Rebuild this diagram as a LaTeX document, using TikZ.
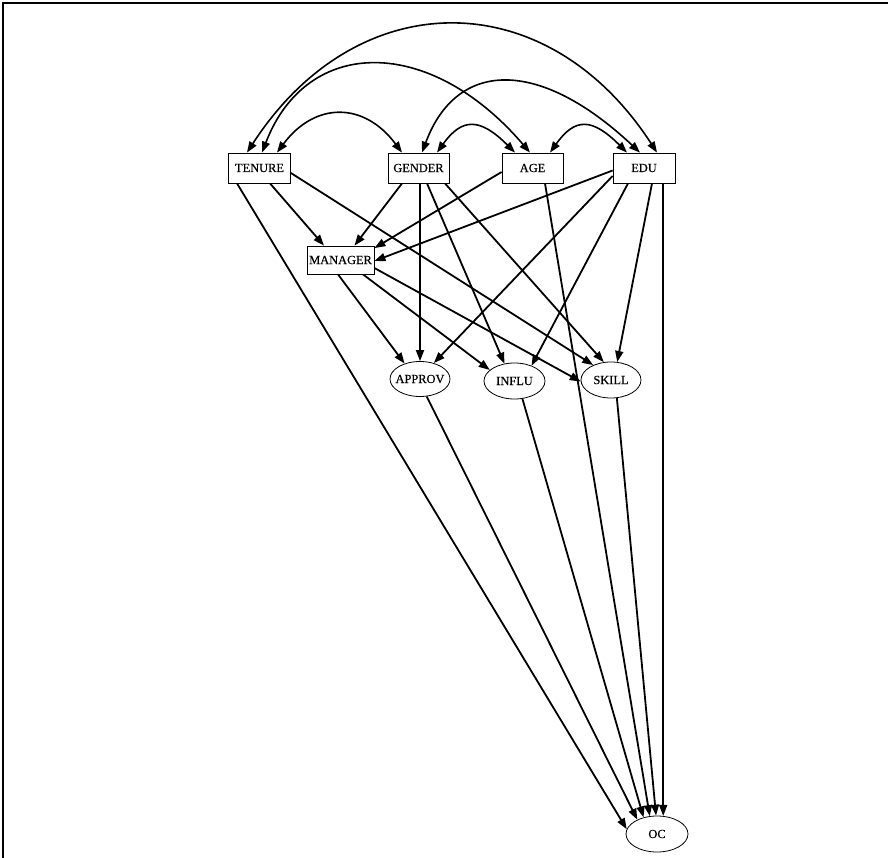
\documentclass[tikz,border=0pt]{standalone}
\usepackage{fontspec}
\setmainfont{Liberation Serif}
\newfontfamily\lblfont{Liberation Serif}[FakeBold=0.5]
\usetikzlibrary{arrows.meta,calc,shapes.geometric}
\pgfdeclarelayer{bg}
\pgfsetlayers{bg,main}
\begin{document}
\begin{tikzpicture}[x=1pt,y=-1pt,
  lbl/.style={font=\lblfont\fontsize{12.4}{14}\selectfont},
  box/.style={lbl, draw, line width=0.8pt, fill=white, rectangle, inner sep=0pt, minimum height=30pt},
  oval/.style={lbl, draw, line width=0.8pt, fill=white, ellipse, inner xsep=-6pt, inner ysep=0pt, minimum width=60pt, minimum height=35pt},
  tipshape/.tip={Triangle[length=11pt,width=8pt]},
  edge/.style={line width=1.8pt, -tipshape},
  biedge/.style={line width=1.6pt, tipshape-tipshape},
  frameline/.style={line width=2pt}
]
\useasboundingbox (0,0) rectangle (888,858);
\draw[frameline] (3,858) -- (3,3) -- (888,3);

\node[box, minimum width=62pt] (TENURE) at (259.5,168) {TENURE};
\node[box, minimum width=61pt] (GENDER) at (418.5,168) {GENDER};
\node[box, minimum width=61pt] (AGE) at (532.5,168) {AGE};
\node[box, minimum width=62pt] (EDU) at (644,168) {EDU};
\node[box, minimum width=67pt, minimum height=28pt] (MANAGER) at (340.5,260) {MANAGER};
\node[oval] (APPROV) at (420,379) {APPROV};
\node[oval, minimum width=61pt, minimum height=36pt] (INFLU) at (514.5,381) {INFLU};
\node[oval, minimum height=36pt] (SKILL) at (611,380) {SKILL};
\node[oval, minimum width=62pt, minimum height=36pt] (OC) at (657,834) {OC};

\begin{pgfonlayer}{bg}
% covariance arcs
\draw[biedge] ($(TENURE.north)+(-12.5,0)$) .. controls +(110,-170) and +(-110,-170) .. ($(EDU.north)+(13,0)$);
\draw[biedge] ($(TENURE.north)+(2.5,0)$) .. controls +(45,-117) and +(-100,-117) .. ($(AGE.north)+(-2.5,0)$);
\draw[biedge] ($(GENDER.north)+(3.5,0)$) .. controls +(35,-94) and +(-100,-94) .. ($(EDU.north)+(-4,0)$);
\draw[biedge] ($(TENURE.north)+(17.5,0)$) .. controls +(38,-51) and +(-38,-51) .. ($(GENDER.north)+(-16.5,0)$);
\draw[biedge] ($(GENDER.north)+(18.5,0)$) .. controls +(25,-35) and +(-35,-35) .. ($(AGE.north)+(-17.5,0)$);
\draw[biedge] ($(AGE.north)+(17.5,0)$) .. controls +(25,-35) and +(-35,-35) .. ($(EDU.north)+(-17,0)$);

% TENURE
\draw[edge] ($(TENURE.south)+(10.5,0)$) -- ($(MANAGER.north)+(-16.5,0)$);
\draw[edge] ($(TENURE.east)+(0,5)$) -- (SKILL.140);
\draw[edge] ($(TENURE.south)+(-22.5,0)$) -- (OC.171);
% GENDER
\draw[edge] ($(GENDER.south)+(-16.5,0)$) -- ($(MANAGER.north)+(14,0)$);
\draw[edge] ($(GENDER.south)+(1.5,0)$) -- (APPROV.north);
\draw[edge] ($(GENDER.south)+(8.5,0)$) -- (INFLU.120);
\draw[edge] ($(GENDER.south)+(26.5,0)$) -- (SKILL.112);
% AGE
\draw[edge] ($(AGE.west)+(0,4)$) -- ($(MANAGER.north east)+(0,2.5)$);
\draw[edge] ($(AGE.south)+(12.5,0)$) -- (OC.112);
% EDU
\draw[edge] ($(EDU.west)+(0,2.5)$) -- ($(MANAGER.east)+(0,1)$);
\draw[edge] ($(EDU.west)+(0,8)$) -- (APPROV.49);
\draw[edge] ($(EDU.south)+(-16,0)$) -- (INFLU.42);
\draw[edge] ($(EDU.south)+(8,0)$) -- (SKILL.71);
\draw[edge] (EDU.south -| OC.71) -- (OC.71);
% MANAGER
\draw[edge] ($(MANAGER.south)+(-2.5,0)$) -- (APPROV.135);
\draw[edge] ($(MANAGER.south)+(22.5,0)$) -- (INFLU.156);
\draw[edge] ($(MANAGER.east)+(0,8)$) -- (SKILL.183);
% mediators to OC
\draw[edge] (APPROV.-69) -- (OC.144);
\draw[edge] (INFLU.-66) -- (OC.129);
\draw[edge] (SKILL.-72) -- (OC.93);
\end{pgfonlayer}
\end{tikzpicture}
\end{document}
